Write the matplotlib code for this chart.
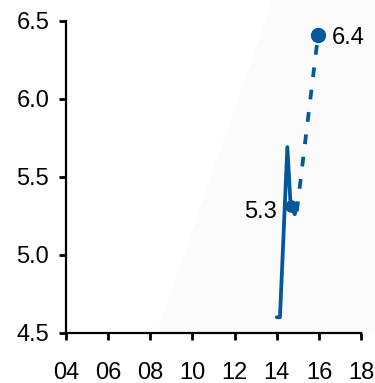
import matplotlib.pyplot as plt
from matplotlib.patches import Polygon

# data
solid_x = [14.0, 14.15, 14.5, 14.65, 14.85, 14.95]
solid_y = [4.60, 4.60, 5.69, 5.33, 5.26, 5.30]
dash_x = [14.95, 15.96]
dash_y = [5.28, 6.41]
mark_x = [14.65, 15.96]
mark_y = [5.31, 6.41]
mark_labels = ['5.3', '6.4']
xticks = [4, 6, 8, 10, 12, 14, 16, 18]
xticklabels = ['04', '06', '08', '10', '12', '14', '16', '18']
yticks = [4.5, 5.0, 5.5, 6.0, 6.5]

plt.rcParams['font.family'] = ['Liberation Sans', 'DejaVu Sans']
blue = '#03579b'

fig = plt.figure(figsize=(3.75, 3.83), dpi=100)
ax = fig.add_axes([0.176, 0.131, 0.787, 0.815])

# faint forecast shading
shade = Polygon([(8.3, 4.5), (13.8, 6.63), (19.0, 6.63), (19.0, 4.5)],
                closed=True, facecolor='#fbfbfb', edgecolor='none',
                clip_on=False, zorder=0)
ax.add_patch(shade)

ax.plot(solid_x, solid_y, color=blue, lw=2.7, solid_joinstyle='round',
        solid_capstyle='round', zorder=3)
ax.plot(dash_x, dash_y, color=blue, lw=2.7, ls=(0, (2.6, 3.4)), zorder=3)
ax.plot(mark_x[0], mark_y[0], 'o', color=blue, ms=8, zorder=4)
ax.plot(mark_x[1], mark_y[1], 'o', color=blue, ms=10, zorder=4)

ax.annotate(mark_labels[0], (mark_x[0], mark_y[0]), xytext=(-10, -4),
            textcoords='offset points', ha='right', va='center', fontsize=17)
ax.annotate(mark_labels[1], (mark_x[1], mark_y[1]), xytext=(10, -2),
            textcoords='offset points', ha='left', va='center', fontsize=17)

ax.set_xlim(4, 18)
ax.set_ylim(4.5, 6.5)
ax.set_xticks(xticks)
ax.set_xticklabels(xticklabels)
ax.set_yticks(yticks)
ax.set_yticklabels([f'{v:.1f}' for v in yticks])
ax.tick_params(axis='both', labelsize=17, length=5, width=2, direction='out')
ax.tick_params(axis='x', pad=16)
ax.tick_params(axis='y', pad=7)

for side in ['top', 'right']:
    ax.spines[side].set_visible(False)
for side in ['left', 'bottom']:
    ax.spines[side].set_linewidth(1.6)
ax.patch.set_alpha(0)

fig.savefig('out.png', dpi=100)
